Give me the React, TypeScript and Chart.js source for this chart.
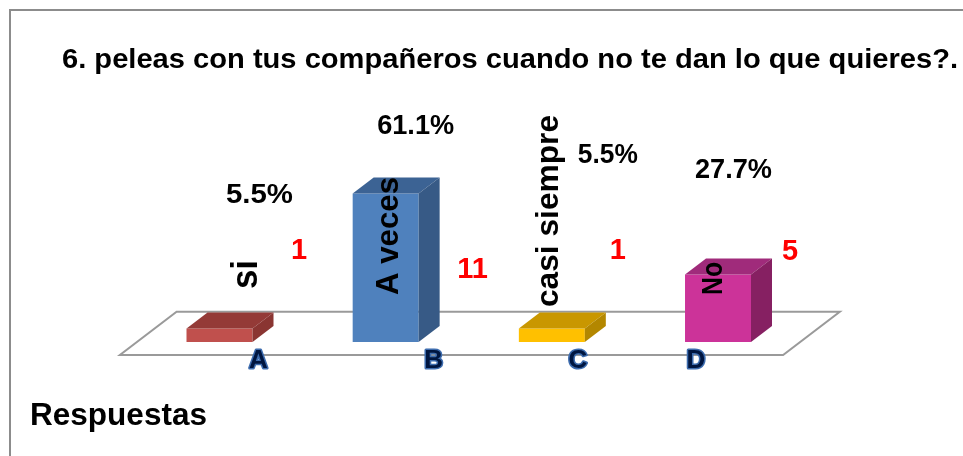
import React, { useEffect, useRef } from "react";
import { Chart, registerables } from "chart.js";

Chart.register(...registerables);

// ---- data ----
const categories = ["A", "B", "C", "D"];
const responseNames = ["si", "A veces", "casi siempre", "No"];
const counts = [1, 11, 1, 5];
const percentLabels = ["5.5%", "61.1%", "5.5%", "27.7%"];
const chartTitle = "6. peleas con tus compañeros cuando no te dan lo que quieres?.";
const axisTitle = "Respuestas";

// ---- styles ----
const frontColors = ["#C0504D", "#4F81BD", "#FFC000", "#CC3399"];
const topColors = ["#943A37", "#3C6394", "#C99700", "#A02B7B"];
const sideColors = ["#8A3532", "#375A86", "#B38700", "#862062"];

// ---- layout (pixels) ----
const W = 963;
const H = 456;
const DEPTH_DX = 21;
const DEPTH_DY = -16;
const FLOOR_K = 2.7; // floor depth in units of bar depth
const FLOOR_FRONT_GAP = 13; // floor front edge below bar base
const FLOOR_LEFT_EXT = -16.5;
const FLOOR_RIGHT_EXT = -18;
const pctDx = [40, 30, 56, 15.5];
const pctBase = [203, 134, 163, 178];
const pctWidth = [67, 77, 60, 77];
const cntDx = [79.5, 87, 66, 72];
const cntBase = [259, 278, 259, 260];
const catDx = [39, 48, 26, -22];
const catBase = 368;
const nameBaseDx = [37.5, 12, 6, 4];
const nameStartY = [289, 295, 307, 295];
const nameLen = [29, 118, 192, 33];
const nameSize = [36, 32, 31, 30];

const FONT = '"Liberation Sans", Arial, sans-serif';

function fitText(
  ctx: CanvasRenderingContext2D,
  text: string,
  x: number,
  y: number,
  size: number,
  color: string,
  align: CanvasTextAlign,
  target?: number
) {
  ctx.save();
  ctx.font = `bold ${size}px ${FONT}`;
  const w = ctx.measureText(text).width;
  const s = target ? target / w : 1;
  ctx.translate(x, y);
  ctx.scale(s, 1);
  ctx.textAlign = align;
  ctx.textBaseline = "alphabetic";
  ctx.fillStyle = color;
  ctx.fillText(text, 0, 0);
  ctx.restore();
}

const bar3d = {
  id: "bar3d",
  beforeDraw(chart: any) {
    const ctx: CanvasRenderingContext2D = chart.ctx;
    ctx.save();
    ctx.fillStyle = "#ffffff";
    ctx.fillRect(0, 0, chart.width, chart.height);
    // frame
    ctx.strokeStyle = "#8c8c8c";
    ctx.lineWidth = 2;
    ctx.beginPath();
    ctx.moveTo(10, H + 5);
    ctx.lineTo(10, 10);
    ctx.lineTo(W + 5, 10);
    ctx.stroke();
    ctx.restore();
  },
  beforeDatasetsDraw(chart: any) {
    const ctx: CanvasRenderingContext2D = chart.ctx;
    const a = chart.chartArea;
    const fy = a.bottom + FLOOR_FRONT_GAP;
    const fl = a.left + FLOOR_LEFT_EXT;
    const fr = a.right + FLOOR_RIGHT_EXT;
    const ddx = DEPTH_DX * FLOOR_K;
    const ddy = DEPTH_DY * FLOOR_K;
    ctx.save();
    ctx.beginPath();
    ctx.moveTo(fl, fy);
    ctx.lineTo(fr, fy);
    ctx.lineTo(fr + ddx, fy + ddy);
    ctx.lineTo(fl + ddx, fy + ddy);
    ctx.closePath();
    ctx.fillStyle = "#ffffff";
    ctx.fill();
    ctx.strokeStyle = "#9a9a9a";
    ctx.lineWidth = 2;
    ctx.stroke();
    ctx.restore();
  },
  afterDatasetsDraw(chart: any) {
    const ctx: CanvasRenderingContext2D = chart.ctx;
    const meta = chart.getDatasetMeta(0);
    meta.data.forEach((el: any, i: number) => {
      const p = el.getProps(["x", "y", "base", "width"], true);
      const l = p.x - p.width / 2;
      const r = p.x + p.width / 2;
      ctx.save();
      // top face
      ctx.beginPath();
      ctx.moveTo(l, p.y);
      ctx.lineTo(r, p.y);
      ctx.lineTo(r + DEPTH_DX, p.y + DEPTH_DY);
      ctx.lineTo(l + DEPTH_DX, p.y + DEPTH_DY);
      ctx.closePath();
      ctx.fillStyle = topColors[i];
      ctx.fill();
      // side face
      ctx.beginPath();
      ctx.moveTo(r, p.y);
      ctx.lineTo(r + DEPTH_DX, p.y + DEPTH_DY);
      ctx.lineTo(r + DEPTH_DX, p.base + DEPTH_DY);
      ctx.lineTo(r, p.base);
      ctx.closePath();
      ctx.fillStyle = sideColors[i];
      ctx.fill();
      ctx.restore();
    });
  },
  afterDraw(chart: any) {
    const ctx: CanvasRenderingContext2D = chart.ctx;
    const meta = chart.getDatasetMeta(0);
    fitText(ctx, chartTitle, 510, 68, 28, "#000000", "center", 896);
    fitText(ctx, axisTitle, 30, 425, 31, "#000000", "left", 177);
    meta.data.forEach((el: any, i: number) => {
      const p = el.getProps(["x", "y", "base", "width"], true);
      // category letters with blue outline
      ctx.save();
      ctx.font = `bold 26px ${FONT}`;
      ctx.textAlign = "center";
      ctx.lineJoin = "round";
      ctx.strokeStyle = "#3d6cae";
      ctx.lineWidth = 3;
      ctx.strokeText(categories[i], p.x + catDx[i], catBase);
      ctx.fillStyle = "#001640";
      ctx.fillText(categories[i], p.x + catDx[i], catBase);
      ctx.restore();
      // percent labels
      fitText(ctx, percentLabels[i], p.x + pctDx[i], pctBase[i], 27, "#000000", "center", pctWidth[i]);
      // counts
      fitText(ctx, String(counts[i]), p.x + cntDx[i], cntBase[i], 29, "#FF0000", "center");
      // rotated response names
      ctx.save();
      ctx.font = `bold ${nameSize[i]}px ${FONT}`;
      const w = ctx.measureText(responseNames[i]).width;
      ctx.translate(p.x + nameBaseDx[i], nameStartY[i]);
      ctx.rotate(-Math.PI / 2);
      ctx.scale(nameLen[i] / w, 1);
      ctx.textAlign = "left";
      ctx.textBaseline = "alphabetic";
      ctx.fillStyle = "#000000";
      ctx.fillText(responseNames[i], 0, 0);
      ctx.restore();
    });
  },
};

export default function App() {
  const ref = useRef<HTMLCanvasElement | null>(null);
  useEffect(() => {
    if (!ref.current) return;
    const chart = new Chart(ref.current, {
      type: "bar",
      data: {
        labels: categories,
        datasets: [
          {
            data: counts,
            backgroundColor: frontColors,
            borderWidth: 0,
            barPercentage: 0.397,
            categoryPercentage: 1,
          },
        ],
      },
      options: {
        animation: false,
        responsive: false,
        events: [],
        layout: { padding: { left: 136.4, right: 161.9, top: 72, bottom: 114 } },
        plugins: {
          legend: { display: false },
          title: { display: false },
          tooltip: { enabled: false },
        },
        scales: {
          x: { display: false, offset: true, grid: { display: false } },
          y: { display: false, min: 0, max: 20, grid: { display: false } },
        },
      },
      plugins: [bar3d],
    });
    return () => chart.destroy();
  }, []);
  return (
    <div style={{ position: "absolute", left: 0, top: 0, width: W, height: H }}>
      <canvas ref={ref} width={W} height={H} style={{ display: "block", width: W, height: H }} />
    </div>
  );
}
